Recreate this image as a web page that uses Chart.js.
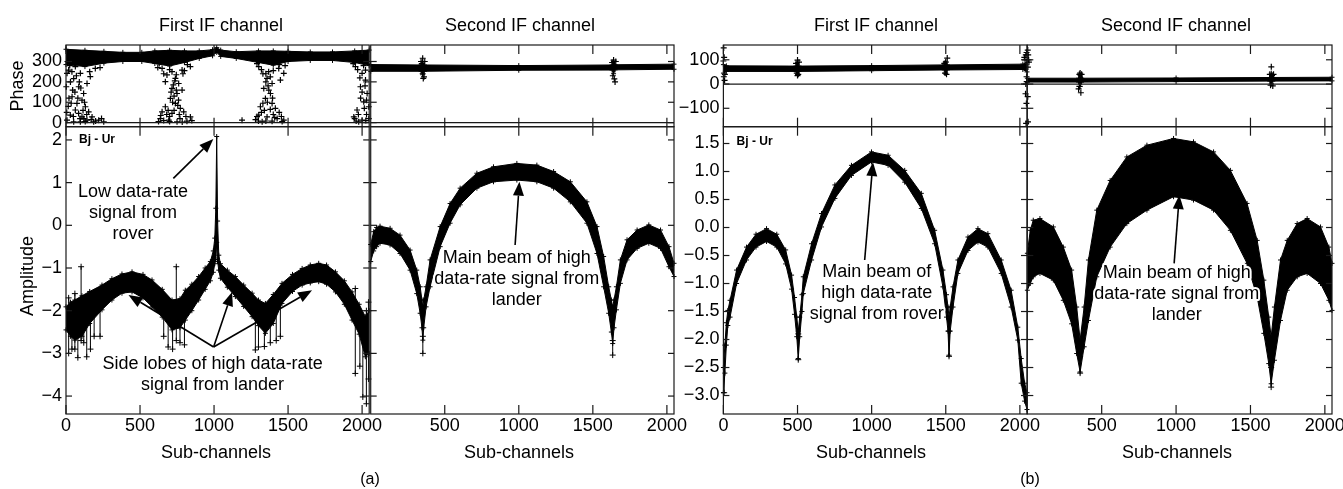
<!DOCTYPE html>
<html>
<head>
<meta charset="utf-8">
<script src="https://cdn.jsdelivr.net/npm/chart.js@4.4.1/dist/chart.umd.min.js"></script>
<style>
  body { margin: 0; background: #fff; font-family: 'Liberation Sans', Arial, Helvetica, sans-serif; color: #000; }
  #page { position: relative; width: 1343px; height: 489px; overflow: hidden; background: #fff; }
  #page canvas { position: absolute; left: 0; top: 0; }
  .lbl { position: absolute; white-space: nowrap; font-size: 18px; line-height: 1; transform: translate(-50%, -50%); }
  .rot { transform: translate(-50%, -50%) rotate(-90deg); }
  .small { font-size: 16px; }
</style>
</head>
<body>
<div id="page">
  <canvas id="pA1" width="1343" height="489"></canvas>
  <canvas id="aA1" width="1343" height="489"></canvas>
  <canvas id="pA2" width="1343" height="489"></canvas>
  <canvas id="aA2" width="1343" height="489"></canvas>
  <canvas id="pB1" width="1343" height="489"></canvas>
  <canvas id="aB1" width="1343" height="489"></canvas>
  <canvas id="pB2" width="1343" height="489"></canvas>
  <canvas id="aB2" width="1343" height="489"></canvas>

  <div class="lbl" style="left:221px;top:25px">First IF channel</div>
  <div class="lbl" style="left:520px;top:25px">Second IF channel</div>
  <div class="lbl" style="left:876px;top:25px">First IF channel</div>
  <div class="lbl" style="left:1176px;top:25px">Second IF channel</div>
  <div class="lbl rot" style="left:17px;top:86px">Phase</div>
  <div class="lbl rot" style="left:27px;top:276px">Amplitude</div>
  <div class="lbl" style="left:216px;top:452px">Sub-channels</div>
  <div class="lbl" style="left:519px;top:452px">Sub-channels</div>
  <div class="lbl" style="left:871px;top:452px">Sub-channels</div>
  <div class="lbl" style="left:1177px;top:452px">Sub-channels</div>
  <div class="lbl small" style="left:370px;top:479px">(a)</div>
  <div class="lbl small" style="left:1030px;top:479px">(b)</div>
</div>
<script>
// ---- axis ticks ----
const xTicksFirst = [0, 500, 1000, 1500, 2000];
const xTicksSecond = [500, 1000, 1500, 2000];
const phaseTicksA = [0, 100, 200, 300];
const phaseTicksB = [-100, 0, 100];
const ampTicksA = [-4, -3, -2, -1, 0, 1, 2];
const ampTicksB = [-3, -2.5, -2, -1.5, -1, -0.5, 0, 0.5, 1, 1.5];

// ---- (a) first IF: phase band + scattered noise ----
const phA1Ch = [0, 128, 256, 384, 512, 600, 700, 800, 900, 990, 1018, 1045, 1150, 1300, 1400, 1500, 1650, 1800, 1950, 2048];
const phA1Hi = [360, 355, 350, 345, 345, 352, 355, 352, 352, 358, 368, 356, 348, 352, 352, 350, 347, 347, 352, 356];
const phA1Lo = [285, 275, 292, 300, 300, 290, 278, 295, 315, 328, 345, 325, 315, 295, 282, 300, 305, 305, 295, 280];
const phA1Noise = [
  [18,258],[52,216],[86,176],[119,143],[108,110],[131,78],[63,62],[29,37],[7,12],[97,4],[176,28],[221,12],
  [255,4],[153,53],[74,94],[41,127],[142,192],[7,242],[97,242],[164,226],[2,176],[63,275],[198,266],[108,28],
  [52,4],[142,12],[187,4],[30,200],[85,45],[120,20],[15,80],[45,160],[230,270],[160,250],
  [10,300],[25,280],[40,250],[70,230],[90,200],[60,150],[100,170],[115,60],[140,40],[170,15],[200,8],[240,20],
  [20,120],[35,95],[80,120],[125,100],[5,50],[50,30],[95,20],[130,5],
  [649,266],[716,250],[784,258],[840,275],[739,217],[761,192],[716,168],[750,143],[705,119],[739,94],[671,78],
  [772,70],[649,53],[716,45],[795,53],[840,28],[637,20],[694,12],[750,4],[817,7],[671,201],[784,160],[682,234],
  [725,185],[760,110],[700,30],[770,20],[660,10],[800,255],[620,270],
  [630,290],[660,240],[700,260],[745,235],[790,240],[820,285],[735,205],[710,150],[745,160],[730,130],[720,100],
  [755,85],[690,60],[730,60],[765,40],[680,40],[640,35],[810,30],[850,10],[625,5],[700,5],[785,3],
  [1302,275],[1369,250],[1437,266],[1471,242],[1358,217],[1392,192],[1336,168],[1381,143],[1347,119],[1392,94],
  [1313,78],[1414,70],[1302,37],[1358,28],[1426,20],[1471,12],[1325,4],[1392,7],[1189,12],[1448,209],[1370,160],
  [1340,60],[1400,40],[1280,15],[1455,30],[1330,240],
  [1290,290],[1320,260],[1350,240],[1400,255],[1440,285],[1480,280],[1380,225],[1350,200],[1365,180],[1395,120],
  [1360,100],[1330,95],[1380,65],[1320,50],[1440,50],[1290,30],[1410,25],[1460,5],[1350,8],[1300,8],
  [1955,275],[2000,242],[2023,209],[1989,176],[2034,143],[2011,102],[1966,62],[1944,28],[2000,12],[2045,20],
  [1977,4],[2045,78],[2023,258],[2040,300],[1990,120],[2030,40],
  [1940,290],[1970,260],[2010,280],[1985,220],[2020,180],[2000,150],[2030,110],[2015,70],[1975,40],[2025,10],
  [1960,8],[1950,20]
];

// ---- (a) first IF: amplitude band ----
const ampA1Ch = [0, 30, 60, 108, 160, 243, 310, 378, 446, 520, 581, 650, 716, 770, 806, 850, 896, 940, 975, 995, 1005, 1012, 1018, 1024, 1032, 1043, 1090, 1144, 1200, 1257, 1300, 1347, 1400, 1459, 1530, 1595, 1650, 1707, 1760, 1820, 1880, 1932, 1980, 2022, 2048];
const ampA1Hi = [-1.91, -1.8, -1.75, -1.65, -1.55, -1.40, -1.25, -1.14, -1.09, -1.15, -1.28, -1.50, -1.75, -1.72, -1.52, -1.38, -1.20, -1.0, -0.85, -0.6, -0.3, 0.4, 2.08, 0.1, -0.7, -0.9, -1.05, -1.20, -1.40, -1.59, -1.75, -1.83, -1.62, -1.36, -1.15, -1.01, -0.93, -0.89, -0.93, -1.09, -1.30, -1.56, -1.85, -2.14, -2.0];
const ampA1Lo = [-2.45, -2.6, -2.69, -2.6, -2.3, -1.98, -1.75, -1.59, -1.56, -1.70, -1.91, -2.15, -2.45, -2.40, -2.22, -2.0, -1.75, -1.50, -1.30, -1.10, -0.90, -0.80, -0.40, -0.85, -1.05, -1.24, -1.45, -1.67, -1.90, -2.14, -2.35, -2.53, -2.30, -1.83, -1.55, -1.40, -1.35, -1.32, -1.38, -1.56, -1.85, -2.22, -2.55, -3.08, -3.0];
const ampA1Whisk = [
  [18,-3.0,-1.7],[40,-2.9,-2.0],[60,-2.9,-1.6],[80,-3.1,-2.0],[102,-2.7,-0.97],[120,-2.75,-1.8],[140,-3.08,-1.9],
  [165,-2.9,-1.9],[190,-2.6,-1.7],[230,-2.6,-1.85],[660,-2.6,-1.9],[690,-2.85,-1.9],[720,-2.9,-2.0],[745,-2.7,-0.97],
  [770,-2.75,-1.95],[800,-2.8,-2.0],[1279,-2.92,-1.9],[1300,-2.85,-2.0],[1340,-2.84,-2.2],[1380,-2.75,-1.8],
  [1420,-2.7,-1.7],[1448,-2.6,-1.6],[1954,-3.47,-1.48],[1985,-3.3,-2.0],[2005,-4.02,-2.4],[2029,-4.18,-2.0],[2043,-3.6,-1.8]
];

// ---- (a) second IF ----
const phA2Ch = [0, 340, 351, 362, 1000, 1630, 1640, 1650, 2048];
const phA2Hi = [285, 283, 300, 283, 280, 283, 300, 284, 287];
const phA2Lo = [252, 252, 235, 252, 257, 258, 240, 259, 262];
const phA2Noise = [[351,316],[340,300],[360,225],[355,217],[345,290],[365,300],[351,240],[1640,307],[1630,295],[1650,200],[1645,215],[1635,230],[1655,300]];
const ampA2Ch = [0, 20, 40, 63, 131, 198, 266, 311, 334, 346, 352, 358, 374, 401, 469, 536, 604, 717, 829, 987, 1122, 1235, 1348, 1460, 1528, 1573, 1607, 1625, 1634, 1643, 1659, 1686, 1731, 1799, 1878, 1957, 2014, 2048];
const ampA2Hi = [-0.45, -0.15, -0.05, -0.02, -0.07, -0.23, -0.58, -1.05, -1.44, -1.75, -1.91, -1.75, -1.44, -0.81, -0.03, 0.51, 0.87, 1.22, 1.37, 1.45, 1.41, 1.26, 1.02, 0.55, -0.03, -0.73, -1.44, -1.75, -1.91, -1.75, -1.44, -0.81, -0.34, -0.11, 0.01, -0.11, -0.50, -0.89];
const ampA2Lo = [-0.85, -0.6, -0.50, -0.42, -0.46, -0.66, -1.05, -1.6, -2.06, -2.4, -2.69, -2.4, -1.91, -1.44, -0.50, 0.05, 0.48, 0.87, 1.02, 1.06, 1.02, 0.87, 0.55, 0.05, -0.66, -1.44, -2.06, -2.5, -2.77, -2.4, -1.98, -1.36, -0.81, -0.54, -0.42, -0.54, -0.97, -1.2];
const ampA2Whisk = [[352,-3.0,-2.6],[1634,-3.04,-2.7]];

// ---- (b) first IF ----
const phB1Ch = [0, 20, 490, 500, 510, 1000, 1490, 1500, 1510, 2020, 2048];
const phB1Hi = [80, 75, 74, 88, 74, 76, 79, 92, 79, 82, 88];
const phB1Lo = [45, 52, 52, 40, 52, 55, 58, 45, 58, 60, 50];
const phB1Noise = [[500,99],[495,45],[505,40],[510,90],[490,85],[500,35],[1510,107],[1500,90],[1495,45],[1505,40],[1490,85],[2,149],[5,110],[3,30],[8,15],[0,95],[10,40],[2040,120],[2045,130],[2035,100],[2030,110],[2045,30],[2040,0],[2038,-40],[2044,-80],[2042,-162],[2046,10]];
const ampB1Ch = [0, 10, 20, 30, 45, 89, 156, 220, 291, 360, 420, 460, 480, 495, 505, 515, 530, 539, 595, 662, 752, 864, 999, 1111, 1223, 1335, 1425, 1481, 1505, 1515, 1522, 1530, 1549, 1582, 1650, 1717, 1784, 1874, 1941, 1986, 2009, 2032, 2048];
const ampB1Hi = [-2.5, -2.1, -1.7, -1.48, -1.30, -0.76, -0.35, -0.12, -0.02, -0.12, -0.40, -0.85, -1.25, -1.6, -1.85, -1.6, -1.2, -0.88, -0.29, 0.25, 0.76, 1.11, 1.35, 1.29, 1.02, 0.61, -0.05, -0.76, -1.2, -1.42, -1.6, -1.42, -1.06, -0.58, -0.17, -0.02, -0.11, -0.58, -1.12, -1.78, -2.34, -2.78, -2.95];
const ampB1Lo = [-2.95, -2.6, -2.1, -1.75, -1.60, -1.00, -0.58, -0.35, -0.25, -0.35, -0.65, -1.10, -1.55, -1.95, -2.34, -1.95, -1.5, -1.18, -0.58, 0.01, 0.52, 0.93, 1.17, 1.11, 0.81, 0.34, -0.29, -1.06, -1.6, -1.85, -2.28, -1.85, -1.42, -0.82, -0.41, -0.26, -0.35, -0.82, -1.42, -2.01, -2.78, -3.1, -3.25];
const ampB1Whisk = [[505,-2.36,-1.9],[1522,-2.3,-1.85],[5,-2.95,-2.5]];

// ---- (b) second IF ----
const phB2Ch = [0, 345, 355, 365, 1000, 1630, 1640, 1650, 2048];
const phB2Hi = [24, 24, 35, 24, 25, 27, 45, 27, 28];
const phB2Lo = [8, 8, -10, 8, 10, 12, 0, 12, 13];
const phB2Noise = [[355,45],[350,40],[345,-20],[360,-36],[365,40],[350,-10],[370,20],[1640,71],[1630,40],[1650,-8],[1645,35],[1635,-5],[1655,40],[3,140],[6,120],[9,100],[4,70],[11,90],[3,-52],[5,-156]];
const ampB2Ch = [0, 20, 40, 85, 175, 242, 298, 332, 355, 382, 411, 467, 557, 669, 804, 983, 1117, 1252, 1365, 1477, 1545, 1590, 1623, 1639, 1661, 1702, 1747, 1814, 1881, 1971, 2027, 2048];
const ampB2Hi = [-0.46, -0.05, 0.13, 0.16, 0.01, -0.35, -0.76, -1.42, -2.01, -1.42, -0.58, 0.31, 0.84, 1.26, 1.47, 1.59, 1.53, 1.35, 1.02, 0.43, -0.23, -0.94, -1.60, -1.95, -1.42, -0.58, -0.23, 0.07, 0.16, 0.01, -0.35, -0.64];
const ampB2Lo = [-1.12, -1.0, -0.88, -0.82, -0.94, -1.30, -1.72, -2.25, -2.58, -2.13, -1.66, -0.88, -0.35, 0.07, 0.31, 0.55, 0.49, 0.31, -0.05, -0.64, -1.24, -1.89, -2.43, -2.79, -2.37, -1.66, -1.12, -0.88, -0.82, -1.0, -1.30, -1.48];
const ampB2Whisk = [[355,-2.6,-2.3],[1639,-2.85,-2.5]];

// ---------------------------------------------------------------
Chart.defaults.font.family = "'Liberation Sans', Arial, Helvetica, sans-serif";
Chart.defaults.font.size = 18;
Chart.defaults.color = '#000';

const W = 1343, H = 489;
const YW = 60, XH = 30;   // room kept for tick labels
const FONT = "'Liberation Sans', Arial, Helvetica, sans-serif";
const fmtInt = v => String(v).replace('-', '\u2212');
const fmtOne = v => v.toFixed(1).replace('-', '\u2212');

// frame, inward ticks, zero line, text notes and arrows
const panelDeco = {
  id: 'panelDeco',
  afterDatasetsDraw(chart, args, opts) {
    const { ctx, chartArea: a, scales: { x, y } } = chart;
    ctx.save();
    ctx.strokeStyle = '#1a1a1a';
    ctx.lineWidth = 1.2;
    const seg = (x1, y1, x2, y2) => { ctx.beginPath(); ctx.moveTo(x1, y1); ctx.lineTo(x2, y2); ctx.stroke(); };
    if (opts.zero) {
      const py = y.getPixelForValue(0);
      seg(a.left, py, a.right, py);
    }
    x.ticks.forEach(t => {
      const px = x.getPixelForValue(t.value);
      seg(px, a.top, px, a.top + 9);
      seg(px, a.bottom, px, a.bottom - 9);
    });
    y.ticks.forEach(t => {
      const py = y.getPixelForValue(t.value);
      seg(a.left, py, a.left + 6, py);
      seg(a.right, py, a.right - 6, py);
    });
    ctx.strokeRect(a.left, a.top, a.right - a.left, a.bottom - a.top);

    // arrows
    (opts.arrows || []).forEach(ar => {
      const x1 = x.getPixelForValue(ar.from[0]), y1 = y.getPixelForValue(ar.from[1]);
      const x2 = x.getPixelForValue(ar.to[0]), y2 = y.getPixelForValue(ar.to[1]);
      const ang = Math.atan2(y2 - y1, x2 - x1);
      const len = 14, half = 5.5;
      const bx = x2 - len * Math.cos(ang), by = y2 - len * Math.sin(ang);
      ctx.strokeStyle = '#000';
      ctx.lineWidth = 1.6;
      seg(x1, y1, bx, by);
      ctx.fillStyle = '#000';
      ctx.beginPath();
      ctx.moveTo(x2, y2);
      ctx.lineTo(bx + half * Math.sin(ang), by - half * Math.cos(ang));
      ctx.lineTo(bx - half * Math.sin(ang), by + half * Math.cos(ang));
      ctx.closePath();
      ctx.fill();
    });

    // texts
    (opts.notes || []).forEach(n => {
      ctx.font = n.font || ('18px ' + FONT);
      ctx.textAlign = n.align || 'center';
      ctx.textBaseline = 'middle';
      ctx.lineJoin = 'round';
      const px = x.getPixelForValue(n.x);
      let py = y.getPixelForValue(n.y);
      n.lines.forEach(line => {
        if (n.halo !== false) {
          ctx.strokeStyle = '#fff';
          ctx.lineWidth = 4;
          ctx.strokeText(line, px, py);
        }
        ctx.fillStyle = '#000';
        ctx.fillText(line, px, py);
        py += 21;
      });
    });
    ctx.restore();
  }
};

function fixBox(s) {
  if (s.isHorizontal()) s.height = XH; else s.width = YW;
  s.paddingLeft = 0; s.paddingRight = 0; s.paddingTop = 0; s.paddingBottom = 0;
}

function bandSets(ch, hi, lo) {
  const pts = arr => ch.map((c, i) => ({ x: c, y: arr[i] }));
  const common = {
    borderColor: '#000', borderWidth: 1, pointStyle: 'cross', pointRadius: 2.5,
    pointBorderColor: '#000', pointBorderWidth: 1, clip: 3
  };
  return [
    Object.assign({}, common, { data: pts(hi), fill: false }),
    Object.assign({}, common, { data: pts(lo), fill: '-1', backgroundColor: '#000' })
  ];
}

function noiseSet(list) {
  return {
    data: list.map(([x, y]) => ({ x, y })), showLine: false, pointStyle: 'cross',
    pointRadius: 3, pointBorderWidth: 1.2, pointBorderColor: '#000', borderColor: '#000', clip: 4
  };
}

function whiskSet(list) {
  const data = [];
  list.forEach(([c, lo, hi]) => { data.push({ x: c, y: lo }, { x: c, y: hi }, { x: c, y: null }); });
  return {
    data, spanGaps: false, borderColor: '#000', borderWidth: 1, pointStyle: 'cross',
    pointRadius: 3, pointBorderWidth: 1, pointBorderColor: '#000', clip: 4
  };
}

const boldSmall = 'bold 12px ' + FONT;

const panels = [
  { id: 'pA1', L: 66, R: 369.2, T: 45, B: 126.7, ch: phA1Ch, hi: phA1Hi, lo: phA1Lo, noise: phA1Noise,
    yMin: -20, yMax: 381, yTicks: phaseTicksA, yLabels: true, fmt: fmtInt, xTicks: xTicksFirst, xLabels: false, zero: true },
  { id: 'aA1', L: 66, R: 369.2, T: 126.7, B: 414, ch: ampA1Ch, hi: ampA1Hi, lo: ampA1Lo, whisk: ampA1Whisk,
    yMin: -4.42, yMax: 2.31, yTicks: ampTicksA, yLabels: true, fmt: fmtInt, xTicks: xTicksFirst, xLabels: true,
    notes: [
      { x: 88, y: 2.0, lines: ['Bj - Ur'], align: 'left', font: boldSmall, halo: false },
      { x: 453, y: 0.79, lines: ['Low data-rate', 'signal from', 'rover'] },
      { x: 990, y: -3.24, lines: ['Side lobes of high data-rate', 'signal from lander'] }
    ],
    arrows: [
      { from: [725, 1.10], to: [995, 2.02] },
      { from: [997, -2.85], to: [422, -1.63] },
      { from: [997, -2.85], to: [1122, -1.56] },
      { from: [997, -2.85], to: [1662, -1.52] }
    ] },
  { id: 'pA2', L: 370.7, R: 674, T: 45, B: 126.7, ch: phA2Ch, hi: phA2Hi, lo: phA2Lo, noise: phA2Noise,
    yMin: -20, yMax: 381, yTicks: phaseTicksA, yLabels: false, fmt: fmtInt, xTicks: xTicksSecond, xLabels: false, zero: true },
  { id: 'aA2', L: 370.7, R: 674, T: 126.7, B: 414, ch: ampA2Ch, hi: ampA2Hi, lo: ampA2Lo, whisk: ampA2Whisk,
    yMin: -4.42, yMax: 2.31, yTicks: ampTicksA, yLabels: false, fmt: fmtInt, xTicks: xTicksSecond, xLabels: true,
    notes: [{ x: 986, y: -0.77, lines: ['Main beam of high', 'data-rate signal from', 'lander'] }],
    arrows: [{ from: [975, -0.46], to: [1004, 1.02] }] },
  { id: 'pB1', L: 723.4, R: 1027, T: 45, B: 126.7, ch: phB1Ch, hi: phB1Hi, lo: phB1Lo, noise: phB1Noise,
    yMin: -176, yMax: 161, yTicks: phaseTicksB, yLabels: true, fmt: fmtInt, xTicks: xTicksFirst, xLabels: false, zero: true },
  { id: 'aB1', L: 723.4, R: 1027, T: 126.7, B: 414, ch: ampB1Ch, hi: ampB1Hi, lo: ampB1Lo, whisk: ampB1Whisk,
    yMin: -3.33, yMax: 1.80, yTicks: ampTicksB, yLabels: true, fmt: fmtOne, xTicks: xTicksFirst, xLabels: true,
    notes: [
      { x: 89, y: 1.53, lines: ['Bj - Ur'], align: 'left', font: boldSmall, halo: false },
      { x: 1034, y: -0.79, lines: ['Main beam of', 'high data-rate', 'signal from rover'] }
    ],
    arrows: [{ from: [953, -0.58], to: [1009, 1.17] }] },
  { id: 'pB2', L: 1027.3, R: 1332, T: 45, B: 126.7, ch: phB2Ch, hi: phB2Hi, lo: phB2Lo, noise: phB2Noise,
    yMin: -176, yMax: 161, yTicks: phaseTicksB, yLabels: false, fmt: fmtInt, xTicks: xTicksSecond, xLabels: false, zero: true },
  { id: 'aB2', L: 1027.3, R: 1332, T: 126.7, B: 414, ch: ampB2Ch, hi: ampB2Hi, lo: ampB2Lo, whisk: ampB2Whisk,
    yMin: -3.33, yMax: 1.80, yTicks: ampTicksB, yLabels: false, fmt: fmtOne, xTicks: xTicksSecond, xLabels: true,
    notes: [{ x: 1005, y: -0.81, lines: ['Main beam of high', 'data-rate signal from', 'lander'] }],
    arrows: [{ from: [987, -0.64], to: [1022, 0.58] }] }
];

panels.forEach(p => {
  const datasets = bandSets(p.ch, p.hi, p.lo);
  if (p.noise) datasets.push(noiseSet(p.noise));
  if (p.whisk) datasets.push(whiskSet(p.whisk));
  new Chart(document.getElementById(p.id), {
    type: 'line',
    data: { datasets },
    options: {
      responsive: false,
      animation: false,
      devicePixelRatio: 1,
      events: [],
      layout: { padding: { left: p.L - YW, right: W - p.R, top: p.T, bottom: H - p.B - XH } },
      plugins: {
        legend: { display: false },
        tooltip: { enabled: false },
        panelDeco: { zero: !!p.zero, notes: p.notes || [], arrows: p.arrows || [] }
      },
      scales: {
        x: {
          type: 'linear', min: 0, max: 2048,
          afterBuildTicks: s => { s.ticks = p.xTicks.map(v => ({ value: v })); },
          afterFit: fixBox,
          grid: { display: false, drawTicks: false },
          border: { display: false },
          ticks: { display: p.xLabels, padding: 1, autoSkip: false, maxRotation: 0, callback: v => String(v) }
        },
        y: {
          type: 'linear', min: p.yMin, max: p.yMax,
          afterBuildTicks: s => { s.ticks = p.yTicks.map(v => ({ value: v })); },
          afterFit: fixBox,
          grid: { display: false, drawTicks: false },
          border: { display: false },
          ticks: { display: p.yLabels, padding: 4, autoSkip: false, callback: p.fmt }
        }
      }
    },
    plugins: [panelDeco]
  });
});
</script>
</body>
</html>
